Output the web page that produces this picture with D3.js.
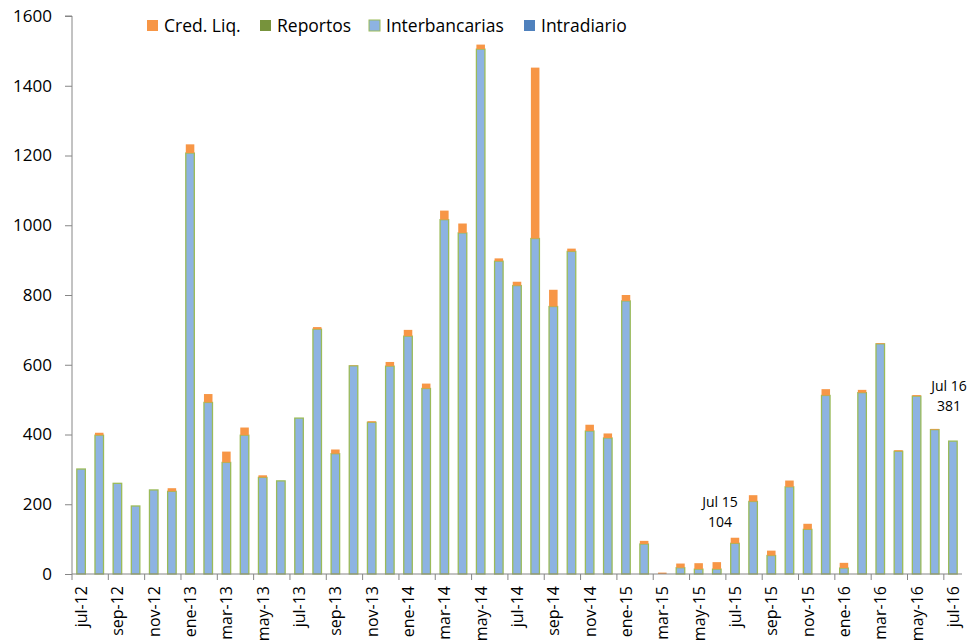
<!DOCTYPE html>
<html>
<head>
<meta charset="utf-8">
<script src="https://cdn.jsdelivr.net/npm/d3@7"></script>
<style>
  body { margin: 0; background: #fff; }
  svg { display: block; font-family: 'Open Sans', 'Noto Sans', sans-serif; }
  .axis path, .axis line { stroke: #868686; }
  .axis text { fill: #000; font-family: 'Open Sans', sans-serif; }
  .y-axis text { font-size: 17px; }
  .x-axis text { font-size: 16px; }
</style>
</head>
<body>
<svg id="chart" width="972" height="640"></svg>
<script>
const months = [
  'jul-12', 'ago-12', 'sep-12', 'oct-12', 'nov-12', 'dic-12',
  'ene-13', 'feb-13', 'mar-13', 'abr-13', 'may-13', 'jun-13',
  'jul-13', 'ago-13', 'sep-13', 'oct-13', 'nov-13', 'dic-13',
  'ene-14', 'feb-14', 'mar-14', 'abr-14', 'may-14', 'jun-14',
  'jul-14', 'ago-14', 'sep-14', 'oct-14', 'nov-14', 'dic-14',
  'ene-15', 'feb-15', 'mar-15', 'abr-15', 'may-15', 'jun-15',
  'jul-15', 'ago-15', 'sep-15', 'oct-15', 'nov-15', 'dic-15',
  'ene-16', 'feb-16', 'mar-16', 'abr-16', 'may-16', 'jun-16',
  'jul-16'
]
const intradiario = months.map(() => 0)
const interbancarias = [
  301, 398, 260, 195, 241, 237,
  1207, 492, 320, 398, 277, 267,
  447, 702, 345, 597, 435, 596,
  682, 532, 1016, 978, 1505, 897,
  827, 962, 767, 925, 410, 390,
  783, 86, 0, 18, 14, 14,
  88, 208, 53, 250, 128, 512,
  17, 520, 660, 352, 510, 414,
  381
]
const reportos = months.map(() => 0)
const credLiq = [
  0, 7, 0, 0, 0, 9,
  25, 24, 31, 22, 6, 0,
  0, 6, 12, 1, 3, 12,
  18, 14, 26, 27, 13, 8,
  11, 490, 48, 8, 18, 13,
  17, 9, 4, 12, 17, 20,
  16, 18, 14, 18, 16, 18,
  15, 8, 2, 3, 3, 2,
  0
]
const yTicks = [0, 200, 400, 600, 800, 1000, 1200, 1400, 1600]
const notes = [
  { month: 'jul-15', lines: ['Jul 15', '104'], dx: -15, dy: -31 },
  { month: 'jul-16', lines: ['Jul 16', '381'], dx: -4, dy: -50 }
]

const series = [
  { key: 'Intradiario', values: intradiario, fill: '#4F81BD', stroke: 'none' },
  { key: 'Interbancarias', values: interbancarias, fill: '#8DB3E2', stroke: '#9BBB59' },
  { key: 'Reportos', values: reportos, fill: '#77933C', stroke: 'none' },
  { key: 'Cred. Liq.', values: credLiq, fill: '#F79646', stroke: 'none' }
]

const margin = { left: 72, top: 16, right: 10, bottom: 66 }
const width = 962 - margin.left
const height = 574 - margin.top

const svg = d3.select('#chart')
const g = svg.append('g').attr('transform', `translate(${margin.left}, ${margin.top})`)

const x = d3.scaleBand().domain(months).range([0, width]).paddingInner(0.53).paddingOuter(0.265)
const y = d3.scaleLinear().domain([0, 1600]).range([height, 0])

const table = months.map((m, i) => {
  const row = { month: m }
  series.forEach(s => { row[s.key] = s.values[i] })
  return row
})
const stacked = d3.stack().keys(series.map(s => s.key))(table)

stacked.forEach((layer, li) => {
  const s = series[li]
  g.append('g')
    .selectAll('rect')
    .data(layer.filter(d => d[1] - d[0] > 0))
    .enter()
    .append('rect')
    .attr('x', d => x(d.data.month))
    .attr('width', x.bandwidth())
    .attr('y', d => y(d[1]))
    .attr('height', d => y(d[0]) - y(d[1]))
    .attr('fill', s.fill)
    .attr('stroke', s.stroke)
    .attr('stroke-width', s.stroke === 'none' ? 0 : 1.3)
})

// y axis
const yAxis = g.append('g').attr('class', 'axis y-axis')
  .call(d3.axisLeft(y).tickValues(yTicks).tickSize(7).tickPadding(13).tickFormat(d3.format('d')))
yAxis.select('.domain').attr('d', `M-7,0H0V${height}`)

// x axis: ticks at every 2nd category boundary
const step = x.step()
const boundaries = d3.range(0, months.length + 1, 2).map(i => i * step)
const xAxisG = g.append('g').attr('class', 'axis x-axis').attr('transform', `translate(0, ${height})`)
xAxisG.append('path').attr('d', `M0,0H${width}`).attr('fill', 'none')
xAxisG.selectAll('line').data(boundaries).enter().append('line')
  .attr('x1', d => d).attr('x2', d => d).attr('y1', 0).attr('y2', 6)
xAxisG.selectAll('text').data(months.filter((m, i) => i % 2 === 0)).enter().append('text')
  .attr('transform', d => `translate(${x(d) + x.bandwidth() / 2 + 6}, 12) rotate(-90)`)
  .attr('text-anchor', 'end')
  .text(d => d)

// annotations
notes.forEach(n => {
  const cx = x(n.month) + x.bandwidth() / 2
  const i = months.indexOf(n.month)
  const top = y(interbancarias[i] + credLiq[i] + reportos[i] + intradiario[i])
  n.lines.forEach((t, k) => {
    g.append('text')
      .attr('x', cx + n.dx)
      .attr('y', top + n.dy + k * 20)
      .attr('text-anchor', 'middle')
      .attr('font-size', 14)
      .text(t)
  })
})

// legend
const legendItems = [series[3], series[2], series[1], series[0]]
const legendX = [147, 260, 369, 524]
const legend = svg.append('g')
legendItems.forEach((s, i) => {
  const lg = legend.append('g').attr('transform', `translate(${legendX[i]}, 20)`)
  lg.append('rect').attr('width', 11).attr('height', 11)
    .attr('fill', s.fill)
    .attr('stroke', s.stroke === 'none' ? 'none' : s.stroke)
    .attr('stroke-width', 1)
  lg.append('text').attr('x', 17).attr('y', 12).attr('font-size', 17.5).text(s.key)
})
</script>
</body>
</html>
